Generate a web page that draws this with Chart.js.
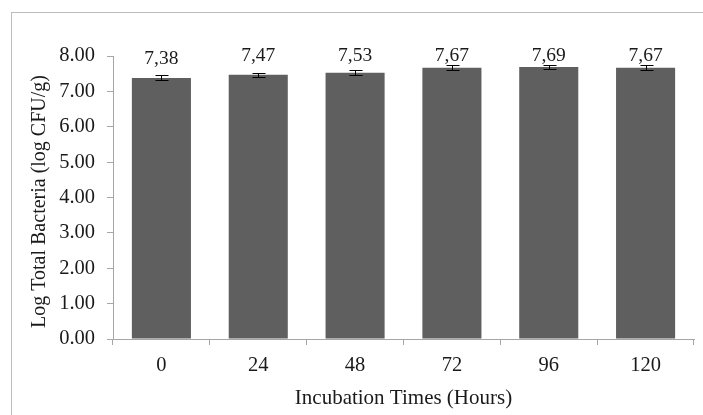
<!DOCTYPE html>
<html>
<head>
<meta charset="utf-8">
<script src="https://cdn.jsdelivr.net/npm/chart.js@4.4.1/dist/chart.umd.min.js"></script>
<style>
  html, body { margin: 0; padding: 0; background: #ffffff; }
  #wrap { position: relative; width: 703px; height: 415px; }
  #frame { position: absolute; left: 11px; top: 12px; width: 700px; height: 420px;
           border-left: 1px solid #bdbdbd; border-top: 1px solid #bdbdbd; box-sizing: border-box; }
  canvas { position: absolute; left: 0; top: 0; }
</style>
</head>
<body>
<div id="wrap">
  <div id="frame"></div>
  <canvas id="c" width="703" height="415"></canvas>
</div>
<script>
const categories = ["0", "24", "48", "72", "96", "120"];
const values = [7.38, 7.47, 7.53, 7.67, 7.69, 7.67];
const errors = [0.07, 0.06, 0.07, 0.07, 0.05, 0.07];
const valueLabels = ["7,38", "7,47", "7,53", "7,67", "7,69", "7,67"];
const yTicks = [0, 1, 2, 3, 4, 5, 6, 7, 8];
const yTitle = "Log Total Bacteria (log CFU/g)";
const xTitle = "Incubation Times (Hours)";

const FONT = "'Liberation Serif', 'Times New Roman', serif";
const TEXT = "#1a1a1a";
const AXIS = "#a6a6a6";

const extras = {
  id: 'extras',
  afterDatasetsDraw(chart) {
    const ctx = chart.ctx;
    const meta = chart.getDatasetMeta(0);
    const y = chart.scales.y;
    const area = chart.chartArea;
    ctx.save();
    // error bars
    ctx.strokeStyle = "#000000";
    ctx.lineWidth = 1;
    meta.data.forEach((bar, i) => {
      const x = Math.round(bar.x) + 0.5;
      const yt = Math.round(y.getPixelForValue(values[i] + errors[i])) + 0.5;
      const yb = Math.round(y.getPixelForValue(values[i] - errors[i])) + 0.5;
      ctx.beginPath();
      ctx.moveTo(x, yt); ctx.lineTo(x, yb);
      ctx.moveTo(x - 6, yt); ctx.lineTo(x + 7, yt);
      ctx.moveTo(x - 6, yb); ctx.lineTo(x + 7, yb);
      ctx.stroke();
    });
    // value labels
    ctx.fillStyle = TEXT;
    ctx.font = "19.5px " + FONT;
    ctx.textAlign = "center";
    ctx.textBaseline = "alphabetic";
    const cap = y.getPixelForValue(8) + 5;
    meta.data.forEach((bar, i) => {
      const base = Math.max(y.getPixelForValue(values[i]) - 14, cap);
      ctx.fillText(valueLabels[i], bar.x, base);
    });
    // axis titles
    ctx.font = "21px " + FONT;
    ctx.textBaseline = "middle";
    ctx.fillText(xTitle, (area.left + area.right) / 2, area.bottom + 59);
    ctx.font = "20px " + FONT;
    ctx.translate(40, (area.top + area.bottom) / 2 + 4);
    ctx.rotate(-Math.PI / 2);
    ctx.fillText(yTitle, 0, 0);
    ctx.restore();
  }
};

new Chart(document.getElementById('c'), {
  type: 'bar',
  data: {
    labels: categories,
    datasets: [{
      data: values,
      backgroundColor: "#5f5f5f",
      borderWidth: 0,
      barPercentage: 0.61,
      categoryPercentage: 1.0
    }]
  },
  options: {
    responsive: false,
    animation: false,
    events: [],
    layout: { padding: { top: 56, right: 9, left: 0, bottom: 0 } },
    plugins: { legend: { display: false }, tooltip: { enabled: false } },
    scales: {
      x: {
        grid: { display: true, drawOnChartArea: false, offset: true, color: AXIS, tickLength: 6, lineWidth: 1 },
        border: { display: true, color: AXIS, width: 1 },
        ticks: { color: TEXT, font: { family: FONT, size: 20.5 }, padding: 8, maxRotation: 0 },
        title: { display: false },
        afterFit(scale) { scale.height = 76; }
      },
      y: {
        min: 0, max: 8,
        afterBuildTicks(scale) { scale.ticks = yTicks.map(v => ({ value: v })); },
        grid: { display: true, drawOnChartArea: false, color: AXIS, tickLength: 6, lineWidth: 1 },
        border: { display: true, color: AXIS, width: 1 },
        ticks: { color: TEXT, font: { family: FONT, size: 20.5 }, padding: 12, callback: v => Number(v).toFixed(2) },
        title: { display: false },
        afterFit(scale) { scale.width = 113; }
      }
    }
  },
  plugins: [extras]
});
</script>
</body>
</html>
